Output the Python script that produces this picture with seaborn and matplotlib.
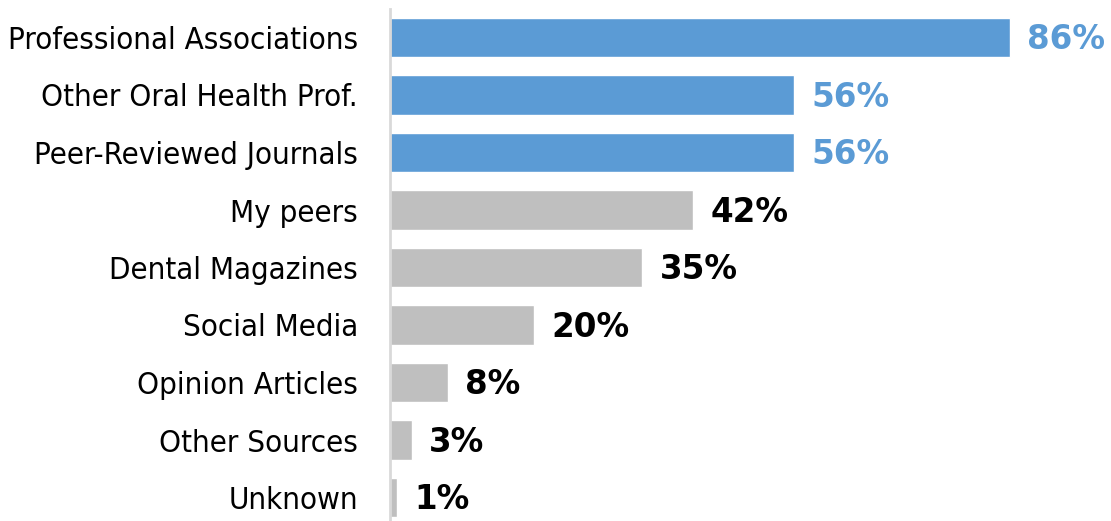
import matplotlib
matplotlib.use("Agg")
import matplotlib.pyplot as plt
import seaborn as sns
import pandas as pd

# Sources of information, share of respondents (%)
sources = [
    "Professional Associations",
    "Other Oral Health Prof.",
    "Peer-Reviewed Journals",
    "My peers",
    "Dental Magazines",
    "Social Media",
    "Opinion Articles",
    "Other Sources",
    "Unknown",
]
shares = [86, 56, 56, 42, 35, 20, 8, 3, 1]
highlighted = [True, True, True, False, False, False, False, False, False]

BLUE = "#5B9BD5"
GREY = "#BFBFBF"

sns.set_theme(style="white")
plt.rcParams["font.family"] = ["DejaVu Sans"]

df = pd.DataFrame({"source": sources, "share": shares})
colors = [BLUE if h else GREY for h in highlighted]

W, H = 1111, 521
fig = plt.figure(figsize=(W / 100, H / 100), dpi=100)
ax_left = 390 / W
ax_top = 1 - 8.75 / H
ax = fig.add_axes([ax_left, 0.0, 1 - ax_left, ax_top])

sns.barplot(
    data=df, x="share", y="source", hue="source", palette=colors,
    orient="h", width=0.68, legend=False, ax=ax, saturation=1,
)

ax.set_xlim(0, 100)
ax.set_ylim(8 + (H - 497.5) / 57.5, -0.5)
ax.set_xlabel("")
ax.set_ylabel("")
ax.set_xticks([])
for s in ["top", "right", "bottom"]:
    ax.spines[s].set_visible(False)
ax.spines["left"].set_color("#D9D9D9")
ax.spines["left"].set_linewidth(2)

ax.tick_params(axis="y", length=0, pad=23)
for lab in ax.get_yticklabels():
    lab.set_fontsize(22.4)
    lab.set_fontstretch("condensed")
    lab.set_color("black")

for i, (v, h) in enumerate(zip(shares, highlighted)):
    ax.text(v + 2.4, i + 0.04, f"{v}%", va="center", ha="left",
            fontsize=23.5, fontweight="bold",
            color=BLUE if h else "black")

fig.savefig("out.png", dpi=100)
